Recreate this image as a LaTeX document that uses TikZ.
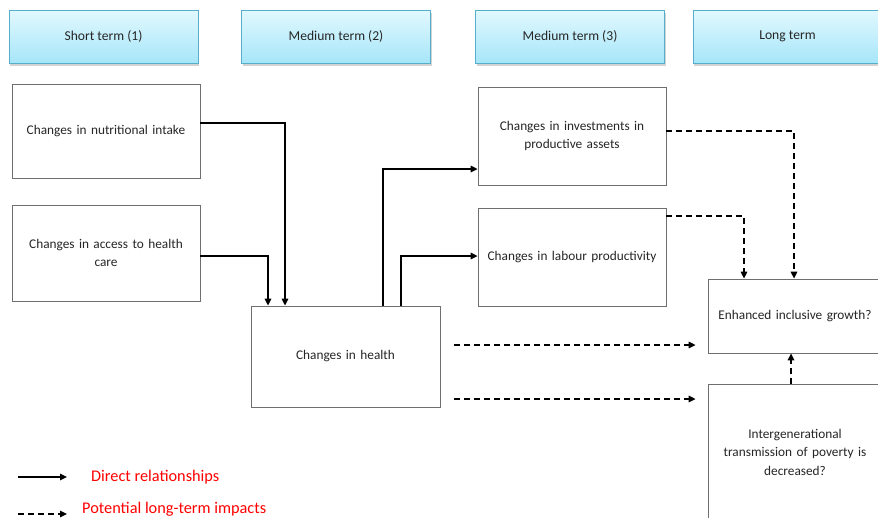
\documentclass[tikz,border=0pt]{standalone}
\usepackage{fontspec}
\setmainfont{Carlito}
\usetikzlibrary{arrows.meta, positioning, calc, shadows}
\definecolor{HeadTop}{HTML}{E2F8FE}
\definecolor{HeadBottom}{HTML}{A6E6F9}
\definecolor{HeadBorder}{HTML}{55AECA}
\definecolor{BoxBorder}{HTML}{6F6F6F}
\definecolor{LegendRed}{HTML}{FF0000}

\tikzset{
  headbox/.style={draw=HeadBorder, line width=1pt, top color=HeadTop, bottom color=HeadBottom,
                  minimum width=189pt, minimum height=53pt, inner sep=0pt,
                  font=\fontsize{13.6}{16}\selectfont, text=black!85,
                  drop shadow={shadow xshift=1pt, shadow yshift=-2.5pt, opacity=0.35}},
  box/.style={draw=BoxBorder, line width=0.8pt, fill=white, inner sep=0pt, align=center,
              text width=180pt, font=\fontsize{13.3}{18.5}\selectfont, text=black!85},
  direct/.style={line width=1.5pt, -{Triangle[length=7pt,width=6.5pt]}},
  potential/.style={direct, dash pattern=on 6pt off 4pt},
  legendtext/.style={text=LegendRed, font=\fontsize{16.3}{18}\selectfont, inner sep=0pt, anchor=west}
}

\begin{document}
\begin{tikzpicture}[x=1pt, y=-1pt]
\useasboundingbox (0,0) rectangle (878,517);
\clip (0,0) rectangle (878,517);

% time headers
\node[headbox] (short) at (103.5,36.5) {Short term (1)};
\node[headbox] (medtwo) at (336,36.5) {Medium term (2)};
\node[headbox] (medthree) at (570,36.5) {Medium term (3)};
\node[headbox] (long) at (787.5,36.5) {Long term};

% boxes
\node[box, minimum width=188pt, minimum height=94pt] (nutri) at (106,131) {Changes in nutritional intake};
\node[box, minimum width=188pt, minimum height=96pt] (access) at (106,253) {Changes in access to health\\care};
\node[box, minimum width=189pt, minimum height=101pt] (health) at (345.5,356.5) {Changes in health};
\node[box, minimum width=188pt, minimum height=98pt] (invest) at (572,136) {Changes in investments in\\productive assets};
\node[box, minimum width=188pt, minimum height=98pt] (labour) at (572,257) {Changes in labour productivity};
\node[box, minimum width=174pt, minimum height=74pt, text width=165pt] (growth) at (795,316) {Enhanced inclusive growth?};
\node[box, minimum width=174pt, minimum height=136pt, text width=160pt] (inter) at (795,452) {Intergenerational\\transmission of poverty is\\decreased?};

% direct relationships
\draw[direct] ([yshift=8pt]nutri.east) -| ([xshift=-60.5pt]health.north);
\draw[direct] ([yshift=-3pt]access.east) -| ([xshift=-77.5pt]health.north);
\draw[direct] ([xshift=37.5pt]health.north) |- ([yshift=-33pt]invest.west);
\draw[direct] ([xshift=55.5pt]health.north) |- ([yshift=1pt]labour.west);

% potential long-term impacts
\draw[potential] ([yshift=5pt]invest.east) -| ([xshift=-1pt]growth.north);
\draw[potential] ([yshift=41pt]labour.east) -| ([xshift=-51pt]growth.north);
\draw[potential, shorten <=14pt, shorten >=12pt] ([yshift=11.5pt]health.east) -- ([yshift=11.5pt]health.east -| growth.west);
\draw[potential, shorten <=14pt, shorten >=12pt] ([yshift=-42.5pt]health.east) -- ([yshift=-42.5pt]health.east -| inter.west);
\draw[potential] ([xshift=-4pt]inter.north) -- ([xshift=-4pt]growth.south);

% legend
\coordinate (dirstart) at (18,477);
\coordinate (dirend) at (67,477);
\coordinate (potstart) at (18,514);
\coordinate (potend) at (67,514);
\draw[direct] (dirstart) -- (dirend);
\draw[potential] (potstart) -- (potend);
\node[legendtext, right=24pt of dirend] (dirlabel) {Direct relationships};
\node[legendtext, right=15pt of potend, yshift=5pt] (potlabel) {Potential long-term impacts};
\end{tikzpicture}
\end{document}
